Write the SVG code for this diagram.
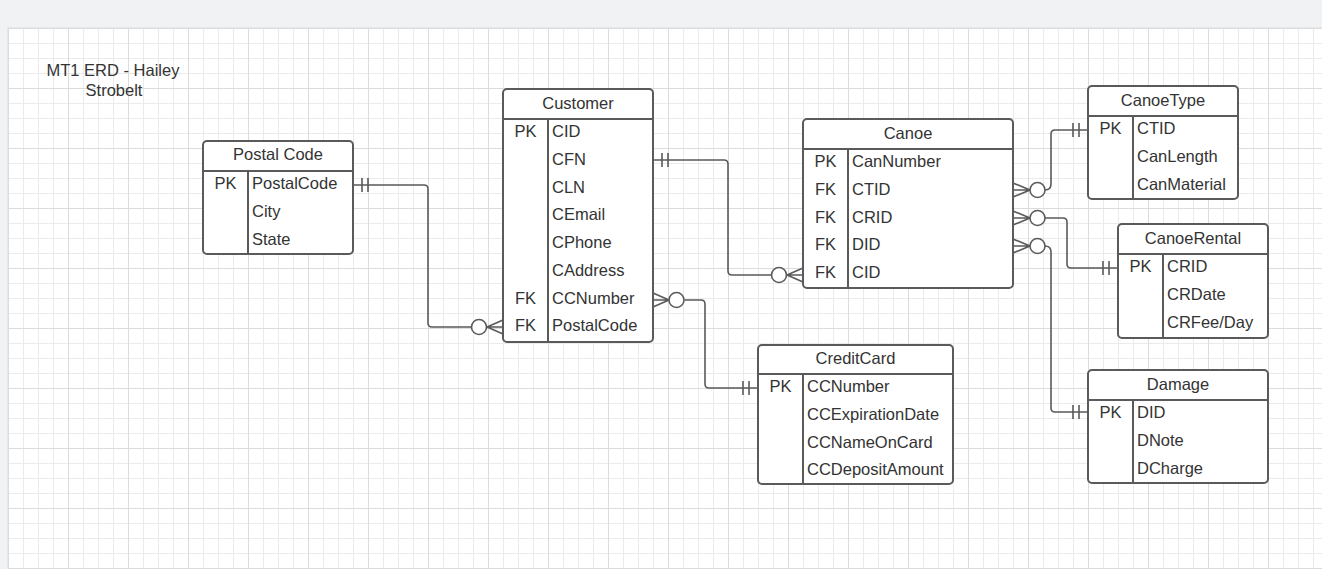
<svg xmlns="http://www.w3.org/2000/svg" width="1322" height="569" viewBox="0 0 1322 569">
<style>
.box{fill:#fff;stroke:#5a5a5a;stroke-width:2}
.ln{stroke:#5a5a5a;stroke-width:2;fill:none}
.cn{stroke:#5a5a5a;stroke-width:1.6;fill:none}
.ci{stroke:#5a5a5a;stroke-width:1.6;fill:#fff}
text{font-family:"Liberation Sans",Arial,sans-serif;font-size:16.5px;fill:#333}
.h{text-anchor:middle}
.k{text-anchor:middle}
</style>
<defs>
<pattern id="grid" x="8" y="28" width="60" height="60" patternUnits="userSpaceOnUse">
<rect width="60" height="60" fill="#fff"/>
<path d="M15.5 0V60M30.5 0V60M45.5 0V60M0 15.5H60M0 30.5H60M0 45.5H60" stroke="#ebebeb" stroke-width="1"/>
<path d="M0.5 0V60M0 0.5H60" stroke="#dcdcdc" stroke-width="1"/>
</pattern>
</defs>
<rect width="1322" height="569" fill="#f1f2f4"/>
<rect x="7" y="27" width="1316" height="543" fill="#e6e7e9"/>
<rect x="8" y="28" width="1314" height="541" fill="url(#grid)"/>

<g id="title">
<text class="h" x="113" y="76">MT1 ERD - Hailey</text>
<text class="h" x="114" y="96">Strobelt</text>
</g>

<g id="connectors">
<path class="cn" d="M353,185H424Q428,185 428,189V323Q428,327 432,327H471.5M503,320L487,327L503,334M487,327H503M362,178V192M368,178V192"/>
<circle class="ci" cx="479" cy="327" r="7.5"/>
<path class="cn" d="M653,160H724Q728,160 728,164V271Q728,275 732,275H771.5M803,268L787,275L803,282M787,275H803M662,153V167M668,153V167"/>
<circle class="ci" cx="779" cy="275" r="7.5"/>
<path class="cn" d="M684.5,300H701Q705,300 705,304V384Q705,388 709,388H758M653,293L669,300L653,307M653,300H669M743,381V395M749,381V395"/>
<circle class="ci" cx="676.5" cy="300" r="7.5"/>
<path class="cn" d="M1045,190Q1051,190 1051,184V134Q1051,130 1055,130H1088M1013,183L1030,190L1013,197M1013,190H1030M1073,123V137M1079,123V137"/>
<circle class="ci" cx="1037.5" cy="190" r="7.5"/>
<path class="cn" d="M1045,218H1063Q1067,218 1067,222V264Q1067,268 1071,268H1118M1013,211L1030,218L1013,225M1013,218H1030M1103,261V275M1109,261V275"/>
<circle class="ci" cx="1037.5" cy="218" r="7.5"/>
<path class="cn" d="M1045,246Q1051,246 1051,252V408Q1051,412 1055,412H1088M1013,239L1030,246L1013,253M1013,246H1030M1073,405V419M1079,405V419"/>
<circle class="ci" cx="1037.5" cy="246" r="7.5"/>
</g>

<g id="postalcode">
<rect class="box" x="203" y="141" width="150" height="113" rx="4"/>
<path class="ln" d="M203,171H353M248,171V254"/>
<text class="h" x="278" y="160">Postal Code</text>
<text class="k" x="225.5" y="189">PK</text>
<text x="252" y="189">PostalCode</text>
<text x="252" y="216.75">City</text>
<text x="252" y="244.5">State</text>
</g>

<g id="customer">
<rect class="box" x="503" y="89" width="150" height="253" rx="4"/>
<path class="ln" d="M503,119H653M548,119V342"/>
<text class="h" x="578" y="108.5">Customer</text>
<text class="k" x="525.5" y="137">PK</text>
<text x="552" y="137">CID</text>
<text x="552" y="164.75">CFN</text>
<text x="552" y="192.5">CLN</text>
<text x="552" y="220.25">CEmail</text>
<text x="552" y="248">CPhone</text>
<text x="552" y="275.75">CAddress</text>
<text class="k" x="525.5" y="303.5">FK</text>
<text x="552" y="303.5">CCNumber</text>
<text class="k" x="525.5" y="331.25">FK</text>
<text x="552" y="331.25">PostalCode</text>
</g>

<g id="canoe">
<rect class="box" x="803" y="119" width="210" height="169" rx="4"/>
<path class="ln" d="M803,149H1013M848,149V288"/>
<text class="h" x="908" y="138.5">Canoe</text>
<text class="k" x="825.5" y="167">PK</text>
<text x="852" y="167">CanNumber</text>
<text class="k" x="825.5" y="194.75">FK</text>
<text x="852" y="194.75">CTID</text>
<text class="k" x="825.5" y="222.5">FK</text>
<text x="852" y="222.5">CRID</text>
<text class="k" x="825.5" y="250.25">FK</text>
<text x="852" y="250.25">DID</text>
<text class="k" x="825.5" y="278">FK</text>
<text x="852" y="278">CID</text>
</g>

<g id="canoetype">
<rect class="box" x="1088" y="86" width="150" height="113" rx="4"/>
<path class="ln" d="M1088,116H1238M1133,116V199"/>
<text class="h" x="1163" y="105.5">CanoeType</text>
<text class="k" x="1110.5" y="134">PK</text>
<text x="1137" y="134">CTID</text>
<text x="1137" y="161.75">CanLength</text>
<text x="1137" y="189.5">CanMaterial</text>
</g>

<g id="canoerental">
<rect class="box" x="1118" y="224" width="150" height="114" rx="4"/>
<path class="ln" d="M1118,254H1268M1163,254V338"/>
<text class="h" x="1193" y="243.5">CanoeRental</text>
<text class="k" x="1140.5" y="272">PK</text>
<text x="1167" y="272">CRID</text>
<text x="1167" y="299.75">CRDate</text>
<text x="1167" y="327.5">CRFee/Day</text>
</g>

<g id="damage">
<rect class="box" x="1088" y="370" width="180" height="113" rx="4"/>
<path class="ln" d="M1088,400H1268M1133,400V483"/>
<text class="h" x="1178" y="389.5">Damage</text>
<text class="k" x="1110.5" y="418">PK</text>
<text x="1137" y="418">DID</text>
<text x="1137" y="445.75">DNote</text>
<text x="1137" y="473.5">DCharge</text>
</g>

<g id="creditcard">
<rect class="box" x="758" y="345" width="195" height="139" rx="4"/>
<path class="ln" d="M758,374H953M803,374V484"/>
<text class="h" x="855.5" y="364">CreditCard</text>
<text class="k" x="780.5" y="392">PK</text>
<text x="807" y="392">CCNumber</text>
<text x="807" y="419.75">CCExpirationDate</text>
<text x="807" y="447.5">CCNameOnCard</text>
<text x="807" y="475.25">CCDepositAmount</text>
</g>
</svg>
